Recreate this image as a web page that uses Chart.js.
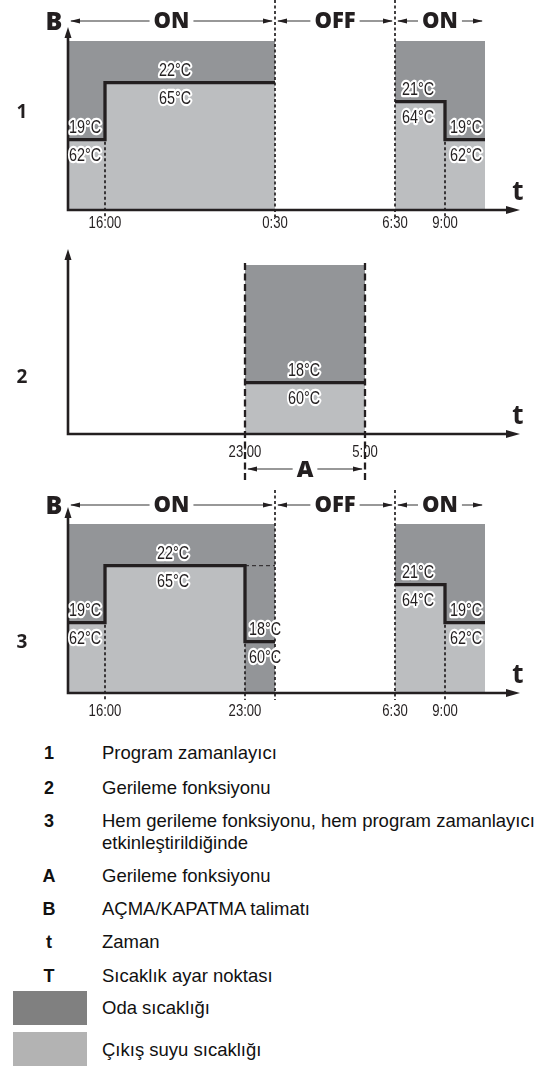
<!DOCTYPE html>
<html>
<head>
<meta charset="utf-8">
<script src="https://cdn.jsdelivr.net/npm/chart.js@4/dist/chart.umd.min.js"></script>
<style>
  body { margin: 0; background: #fff; }
  #page { position: relative; width: 536px; height: 1066px; overflow: hidden; font-family: 'Liberation Sans', Arial, sans-serif; color: #111; }
  canvas { position: absolute; left: 0; }
  .key { position: absolute; left: 30px; width: 38px; text-align: center; font-weight: bold; font-size: 18px; line-height: 20px; }
  .txt { position: absolute; left: 102px; font-size: 18.5px; line-height: 21px; white-space: nowrap; }
  .sw { position: absolute; left: 13px; width: 74px; height: 34px; }
</style>
</head>
<body>
<div id="page">
  <canvas id="c1" width="536" height="232" style="top:0px"></canvas>
  <canvas id="c2" width="536" height="254" style="top:232px"></canvas>
  <canvas id="c3" width="536" height="234" style="top:486px"></canvas>
  <div id="legend"></div>
</div>
<script>
// ---- data (time in hours, 24.5 = 0:30 next day; levels in °C room setpoint) ----
const ON_LEVEL = 24.2;

// chart 1 - program timer
const ticks1 = [16, 24.5, 30.5, 33];
const tickLabels1 = ['16:00', '0:30', '6:30', '9:00'];
const onStart1 = [14.15, 30.5];
const onEnd1 = [24.5, 35];
const lineTimes1a = [14.15, 16, 24.5];
const lineTemps1a = [19, 22, 22];
const lineTimes1b = [30.5, 33, 35];
const lineTemps1b = [21, 19, 19];
const labelTimes1 = [15.0, 19.5, 31.65, 34.05];
const roomTemps1 = ['19°C', '22°C', '21°C', '19°C'];
const waterTemps1 = ['62°C', '65°C', '64°C', '62°C'];

// chart 2 - setback
const ticks2 = [23, 29];
const tickLabels2 = ['23:00', '5:00'];
const onStart2 = [23];
const onEnd2 = [29];
const lineTimes2 = [23, 29];
const lineTemps2 = [18, 18];
const labelTimes2 = [25.95];
const roomTemps2 = ['18°C'];
const waterTemps2 = ['60°C'];

// chart 3 - both
const ticks3 = [16, 23, 30.5, 33];
const tickLabels3 = ['16:00', '23:00', '6:30', '9:00'];
const onStart3 = [14.15, 30.5];
const onEnd3 = [24.5, 35];
const lineTimes3a = [14.15, 16, 23, 24.5];
const lineTemps3a = [19, 22, 18, 18];
const fillTimes3a = [14.15, 16, 23];
const fillTemps3a = [19, 22, 22];
const ghostTimes3 = [23, 24.5];
const ghostTemps3 = [22, 22];
const lineTimes3b = [30.5, 33, 35];
const lineTemps3b = [21, 19, 19];
const labelTimes3 = [15.0, 19.4, 24.0, 31.65, 34.05];
const roomTemps3 = ['19°C', '22°C', '18°C', '21°C', '19°C'];
const waterTemps3 = ['62°C', '65°C', '60°C', '64°C', '62°C'];

const switchTimes = [24.5, 30.5];
const onOffRanges = [[14.15, 24.5, 'ON'], [24.5, 30.5, 'OFF'], [30.5, 35, 'ON']];

// ---- style ----
const DARK = '#939598';
const LIGHT = '#bcbec0';
const INK = '#231f20';
const X_MIN = 14.15, X_MAX = 36.75;
const Y_BASE = 15.3, PX_PER_DEG = 19;
const NARROW = '"Liberation Sans", Arial, sans-serif';
const BOLD = '"Open Sans", "DejaVu Sans", sans-serif';

const pts = (ts, vs) => ts.map((t, i) => ({ x: t, y: vs[i] }));

function levelAt(segs, t) {
  for (const s of segs) {
    if (t < s.times[0] || t > s.times[s.times.length - 1]) continue;
    let v = s.temps[0];
    for (let i = 0; i < s.times.length; i++) if (s.times[i] <= t) v = s.temps[i];
    return v;
  }
  return Y_BASE;
}

// squeezed text (the original uses a condensed face)
function squeezeText(ctx, txt, x, y, font, sx, halo) {
  ctx.save();
  ctx.translate(x, y);
  ctx.scale(sx, 1);
  ctx.font = font;
  ctx.textAlign = 'center';
  ctx.textBaseline = 'middle';
  if (halo) {
    ctx.lineJoin = 'round';
    ctx.lineWidth = 4.5;
    ctx.strokeStyle = '#fff';
    ctx.strokeText(txt, 0, 0);
  }
  ctx.fillStyle = INK;
  ctx.fillText(txt, 0, 0);
  ctx.restore();
}

function arrowHead(ctx, x, y, dir, len, half) {
  ctx.beginPath();
  if (dir === 'right') { ctx.moveTo(x, y); ctx.lineTo(x - len, y - half); ctx.lineTo(x - len, y + half); }
  if (dir === 'left') { ctx.moveTo(x, y); ctx.lineTo(x + len, y - half); ctx.lineTo(x + len, y + half); }
  if (dir === 'up') { ctx.moveTo(x, y); ctx.lineTo(x - half, y + len); ctx.lineTo(x + half, y + len); }
  ctx.closePath();
  ctx.fill();
}

function dashLine(ctx, x, y1, y2, width, dash) {
  ctx.save();
  ctx.strokeStyle = INK;
  ctx.lineWidth = width;
  ctx.setLineDash(dash);
  ctx.beginPath();
  ctx.moveTo(x, y1);
  ctx.lineTo(x, y2);
  ctx.stroke();
  ctx.restore();
}

// labelled double arrow: |<---- TEXT ---->|
function spanArrow(ctx, x1, x2, y, text, font) {
  const cx = (x1 + x2) / 2;
  ctx.save();
  ctx.font = font;
  const textW = ctx.measureText(text).width;
  ctx.strokeStyle = '#333';
  ctx.fillStyle = INK;
  ctx.lineWidth = 1.2;
  ctx.beginPath();
  ctx.moveTo(x1 + 3, y); ctx.lineTo(cx - textW / 2 - 4, y);
  ctx.moveTo(cx + textW / 2 + 4, y); ctx.lineTo(x2 - 3, y);
  ctx.stroke();
  arrowHead(ctx, x1 + 2, y, 'left', 10, 2.6);
  arrowHead(ctx, x2 - 2, y, 'right', 10, 2.6);
  ctx.textAlign = 'center';
  ctx.textBaseline = 'middle';
  ctx.fillText(text, cx, y + 1);
  ctx.restore();
}

const decor = {
  id: 'decor',
  afterDraw(chart, args, o) {
    const ctx = chart.ctx;
    const xs = chart.scales.x, ys = chart.scales.y;
    const area = chart.chartArea;
    const X = v => xs.getPixelForValue(v);
    const Y = v => ys.getPixelForValue(v);
    const axisY = area.bottom;

    // dashed guides at step changes
    o.stepTicks.forEach(t => {
      const lvl = Math.min(levelAt(o.segs, t - 0.01), levelAt(o.segs, t + 0.01));
      dashLine(ctx, X(t), Y(lvl) + 2, axisY + 7, 1.7, [3, 2.5]);
    });
    // dashed guides at on/off switching
    (o.switchTicks || []).forEach(t => dashLine(ctx, X(t), o.switchTop, axisY + 7, 1.7, [3, 2.5]));
    // long dashed guides (setback window)
    (o.windowTicks || []).forEach(t => dashLine(ctx, X(t), o.windowTop, o.windowBottom, 2.3, [7, 3.5]));

    // axes
    ctx.save();
    ctx.strokeStyle = INK;
    ctx.fillStyle = INK;
    ctx.lineWidth = 2.6;
    ctx.beginPath();
    ctx.moveTo(area.left, area.top + 8);
    ctx.lineTo(area.left, axisY);
    ctx.lineTo(area.right - 8, axisY);
    ctx.stroke();
    arrowHead(ctx, area.left, area.top, 'up', 11, 3.5);
    arrowHead(ctx, area.right, axisY, 'right', 14, 4);
    ctx.restore();

    // tick labels
    o.ticks.forEach((t, i) => {
      squeezeText(ctx, o.tickLabels[i], X(t), axisY + o.tickGap, '16px ' + NARROW, 0.82, false);
    });

    // temperature labels
    o.labelTimes.forEach((t, i) => {
      const lvl = levelAt(o.segs, t);
      const font = '18px ' + NARROW;
      squeezeText(ctx, o.room[i], X(t), Y(lvl) - 12, font, 0.8, true);
      squeezeText(ctx, o.water[i], X(t), Y(lvl) + 16, font, 0.8, true);
    });

    // row number and t
    ctx.save();
    ctx.fillStyle = INK;
    ctx.textAlign = 'center';
    ctx.textBaseline = 'middle';
    ctx.font = 'bold 19px ' + BOLD;
    ctx.fillText(o.rowLabel, 22, o.rowY);
    ctx.font = 'bold 26px ' + BOLD;
    ctx.fillText('t', 518, axisY - 17);
    ctx.restore();

    // ON / OFF header
    if (o.header) {
      const hy = o.headerY;
      onOffRanges.forEach(r => spanArrow(ctx, X(r[0]), X(r[1]), hy, r[2], '800 22px ' + BOLD));
      ctx.save();
      ctx.fillStyle = INK;
      ctx.font = '800 25px ' + BOLD;
      ctx.textAlign = 'center';
      ctx.textBaseline = 'middle';
      ctx.fillText('B', 54, hy + 2);
      ctx.restore();
    }

    // A span
    if (o.spanA) {
      spanArrow(ctx, X(o.spanA[0]), X(o.spanA[1]), o.spanAY, 'A', '800 23px ' + BOLD);
    }
  }
};

function bands(starts, ends) {
  return starts.map((s, i) => ({
    data: pts([s, ends[i]], [ON_LEVEL, ON_LEVEL]),
    fill: 'start', backgroundColor: DARK, borderWidth: 0, pointRadius: 0, order: 3
  }));
}
function fillStep(ts, vs) {
  return { data: pts(ts, vs), stepped: true, fill: 'start', backgroundColor: LIGHT, borderWidth: 0, pointRadius: 0, order: 2 };
}
function lineStep(ts, vs) {
  return { data: pts(ts, vs), stepped: true, fill: false, borderColor: INK, borderWidth: 3.3, pointRadius: 0, order: 1, borderJoinStyle: 'miter' };
}

function makeChart(id, pad, datasets, opts) {
  const cv = document.getElementById(id);
  const areaH = cv.height - pad.top - pad.bottom;
  return new Chart(cv, {
    type: 'line',
    data: { datasets },
    options: {
      responsive: false,
      animation: false,
      events: [],
      devicePixelRatio: 1,
      layout: { padding: { left: 68, right: 16, top: pad.top, bottom: pad.bottom } },
      scales: {
        x: { type: 'linear', min: X_MIN, max: X_MAX, display: false },
        y: { type: 'linear', min: Y_BASE, max: Y_BASE + areaH / PX_PER_DEG, display: false }
      },
      plugins: { legend: { display: false }, tooltip: { enabled: false }, decor: opts }
    },
    plugins: [decor]
  });
}

makeChart('c1', { top: 27, bottom: 22 }, [
  ...bands(onStart1, onEnd1),
  fillStep(lineTimes1a, lineTemps1a),
  fillStep(lineTimes1b, lineTemps1b),
  lineStep(lineTimes1a, lineTemps1a),
  lineStep(lineTimes1b, lineTemps1b)
], {
  segs: [{ times: lineTimes1a, temps: lineTemps1a }, { times: lineTimes1b, temps: lineTemps1b }],
  stepTicks: [16, 33], switchTicks: switchTimes, switchTop: 0,
  ticks: ticks1, tickLabels: tickLabels1, tickGap: 14,
  labelTimes: labelTimes1, room: roomTemps1, water: waterTemps1,
  rowLabel: '1', rowY: 113, header: true, headerY: 21
});

makeChart('c2', { top: 17, bottom: 52 }, [
  ...bands(onStart2, onEnd2),
  fillStep(lineTimes2, lineTemps2),
  lineStep(lineTimes2, lineTemps2)
], {
  segs: [{ times: lineTimes2, temps: lineTemps2 }],
  stepTicks: [], windowTicks: ticks2, windowTop: 31, windowBottom: 251,
  ticks: ticks2, tickLabels: tickLabels2, tickGap: 19,
  labelTimes: labelTimes2, room: roomTemps2, water: waterTemps2,
  rowLabel: '2', rowY: 146, spanA: [23, 29], spanAY: 237
});

makeChart('c3', { top: 21, bottom: 27 }, [
  ...bands(onStart3, onEnd3),
  fillStep(fillTimes3a, fillTemps3a),
  fillStep(lineTimes3b, lineTemps3b),
  lineStep(lineTimes3a, lineTemps3a),
  lineStep(lineTimes3b, lineTemps3b),
  { data: pts(ghostTimes3, ghostTemps3), borderColor: INK, borderWidth: 1, borderDash: [4, 3], pointRadius: 0, fill: false, order: 0 }
], {
  segs: [{ times: lineTimes3a, temps: lineTemps3a }, { times: lineTimes3b, temps: lineTemps3b }],
  stepTicks: [16, 23, 33], switchTicks: switchTimes, switchTop: 4,
  ticks: ticks3, tickLabels: tickLabels3, tickGap: 19,
  labelTimes: labelTimes3, room: roomTemps3, water: waterTemps3,
  rowLabel: '3', rowY: 157, header: true, headerY: 19
});

// ---- legend ----
const legendKeys = ['1', '2', '3', '', 'A', 'B', 't', 'T'];
const legendTexts = ['Program zamanlayıcı', 'Gerileme fonksiyonu', 'Hem gerileme fonksiyonu, hem program zamanlayıcı', 'etkinleştirildiğinde', 'Gerileme fonksiyonu', 'AÇMA/KAPATMA talimatı', 'Zaman', 'Sıcaklık ayar noktası'];
const legendRowY = [753, 788, 821, 843, 876, 909, 942, 976];
const swatchColors = ['#808080', '#b3b3b3'];
const swatchTexts = ['Oda sıcaklığı', 'Çıkış suyu sıcaklığı'];
const swatchTop = [991, 1032];
const swatchTextY = [1008, 1050];

const lg = document.getElementById('legend');
let html = '';
legendKeys.forEach((k, i) => {
  html += `<div class="key" style="top:${legendRowY[i] - 10}px">${k}</div>`;
  html += `<div class="txt" style="top:${legendRowY[i] - 11}px">${legendTexts[i]}</div>`;
});
swatchColors.forEach((c, i) => {
  html += `<div class="sw" style="top:${swatchTop[i]}px;background:${c}"></div>`;
  html += `<div class="txt" style="top:${swatchTextY[i] - 11}px">${swatchTexts[i]}</div>`;
});
lg.innerHTML = html;
</script>
</body>
</html>
